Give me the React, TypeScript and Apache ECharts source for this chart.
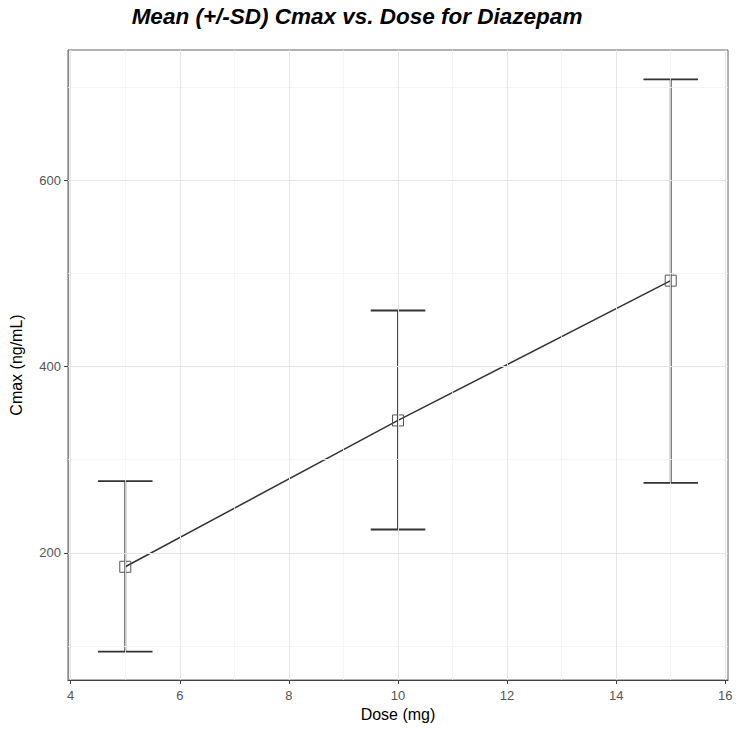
import React, { useEffect, useRef } from "react";
import * as echarts from "echarts";

const doses = [5, 10, 15];
const meanCmax = [185, 342, 492];
const sdLower = [94, 225, 275];
const sdUpper = [277, 460, 708];
const xTicks = [4, 6, 8, 10, 12, 14, 16];
const xMinor = [5, 7, 9, 11, 13, 15];
const yTicks = [200, 400, 600];
const yMinor = [100, 300, 500, 700];

const FONT = "'Liberation Sans', Arial, sans-serif";

export default function App() {
  const ref = useRef<HTMLDivElement>(null);
  useEffect(() => {
    if (!ref.current) return;
    const chart = echarts.init(ref.current, undefined, { renderer: "svg" });
    const major = { color: "#e6e6e6", width: 1, type: "solid" as const };
    const minor = { color: "#f2f2f2", width: 0.8, type: "solid" as const };
    const gridLines = [
      ...xMinor.map((v) => ({ xAxis: v, lineStyle: minor })),
      ...yMinor.map((v) => ({ yAxis: v, lineStyle: minor })),
      ...xTicks.map((v) => ({ xAxis: v, lineStyle: major })),
      ...yTicks.map((v) => ({ yAxis: v, lineStyle: major })),
    ];
    const capHalf = 0.5;
    chart.setOption({
      animation: false,
      backgroundColor: "#ffffff",
      title: {
        text: "Mean (+/-SD) Cmax vs. Dose for Diazepam",
        left: 352,
        top: 0,
        textAlign: "center",
        textStyle: {
          fontFamily: FONT,
          fontSize: 22.5,
          fontWeight: "bold",
          fontStyle: "italic",
          color: "#000",
        },
      },
      grid: {
        left: 68,
        right: 8,
        top: 50,
        bottom: 49,
        show: true,
        borderColor: "#666",
        borderWidth: 1,
        backgroundColor: "#fff",
      },
      xAxis: {
        type: "value",
        min: 3.95,
        max: 16.05,
        name: "Dose (mg)",
        nameLocation: "middle",
        nameGap: 25,
        nameTextStyle: { fontFamily: FONT, fontSize: 16, color: "#000" },
        axisLine: { show: true, onZero: false, lineStyle: { color: "#444", width: 1.2 } },
        axisTick: { show: true, length: 4, customValues: xTicks, lineStyle: { color: "#444" } },
        axisLabel: {
          customValues: xTicks,
          fontFamily: FONT,
          fontSize: 13,
          color: "#555",
          margin: 9,
        },
        splitLine: { show: false },
      },
      yAxis: {
        type: "value",
        min: 63.5,
        max: 739.5,
        name: "Cmax (ng/mL)",
        nameLocation: "middle",
        nameGap: 44,
        nameRotate: 90,
        nameTextStyle: { fontFamily: FONT, fontSize: 16, color: "#000" },
        axisLine: { show: true, onZero: false, lineStyle: { color: "#888", width: 1.2 } },
        axisTick: { show: true, length: 4, customValues: yTicks, lineStyle: { color: "#444" } },
        axisLabel: {
          customValues: yTicks,
          fontFamily: FONT,
          fontSize: 13,
          color: "#555",
          margin: 7,
        },
        splitLine: { show: false },
      },
      series: [
        {
          type: "line",
          data: [],
          silent: true,
          z: 1,
          markLine: {
            silent: true,
            symbol: ["none", "none"],
            label: { show: false },
            data: gridLines,
          },
        },
        {
          type: "custom",
          z: 3,
          data: doses.map((d, i) => [d, sdLower[i], sdUpper[i]]),
          encode: { x: 0, y: [1, 2] },
          renderItem: (_params: any, api: any) => {
            const x = api.value(0);
            const lo = api.value(1);
            const hi = api.value(2);
            const top = api.coord([x, hi]);
            const bot = api.coord([x, lo]);
            const tl = api.coord([x - capHalf, hi]);
            const tr = api.coord([x + capHalf, hi]);
            const bl = api.coord([x - capHalf, lo]);
            const br = api.coord([x + capHalf, lo]);
            const style = { stroke: "#333", lineWidth: 1.8, fill: "none" };
            return {
              type: "group",
              children: [
                { type: "line", shape: { x1: top[0], y1: top[1], x2: bot[0], y2: bot[1] }, style },
                { type: "line", shape: { x1: tl[0], y1: tl[1], x2: tr[0], y2: tr[1] }, style },
                { type: "line", shape: { x1: bl[0], y1: bl[1], x2: br[0], y2: br[1] }, style },
              ],
            };
          },
        },
        {
          type: "line",
          z: 4,
          data: doses.map((d, i) => [d, meanCmax[i]]),
          symbol: "rect",
          symbolSize: 11,
          lineStyle: { color: "#333", width: 1.5 },
          itemStyle: { color: "rgba(0,0,0,0)", borderColor: "#555", borderWidth: 1 },
          showSymbol: true,
        },
      ],
    });
    return () => chart.dispose();
  }, []);
  return (
    <div
      ref={ref}
      style={{ position: "fixed", left: 0, top: 0, width: 736, height: 729 }}
    />
  );
}
